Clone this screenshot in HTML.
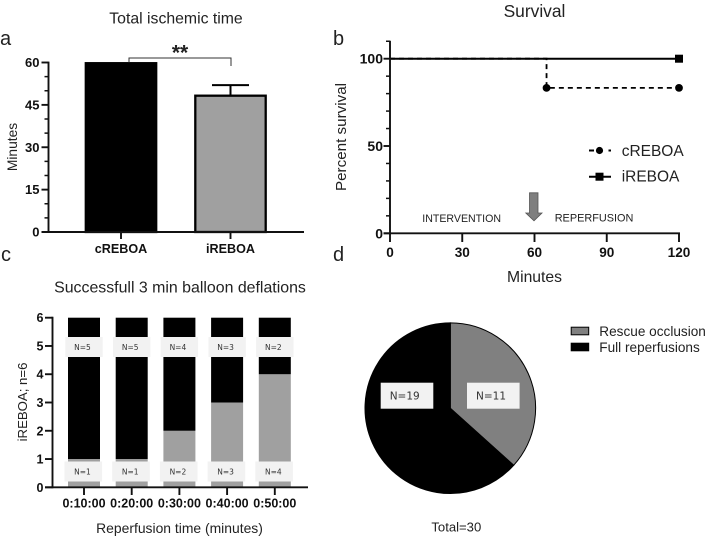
<!DOCTYPE html>
<html lang="en">
<head>
<meta charset="utf-8">
<title>REBOA outcome figure</title>
<style>
html,body{margin:0;padding:0;background:#fff;width:709px;height:539px;overflow:hidden}
svg{display:block;font-family:"Liberation Sans",sans-serif}
text{fill:#222}
.tick{font-weight:bold;fill:#111}
.small{font-family:"DejaVu Sans",sans-serif;fill:#333}
</style>
</head>
<body>
<svg id="figure" xmlns="http://www.w3.org/2000/svg" width="709" height="539" viewBox="0 0 709 539">
  <text x="0" y="45" font-size="20">a</text>
  <text x="333" y="45" font-size="20">b</text>
  <text x="1" y="261" font-size="20">c</text>
  <text x="333" y="261" font-size="20">d</text>

  <text x="176" y="23.5" font-size="15.8" text-anchor="middle">Total ischemic time</text>
  <text transform="translate(17,147) rotate(-90)" font-size="13.8" text-anchor="middle">Minutes</text>
  <g id="panel-a"></g>
  <g>
    <path d="M129 62.5V58H231V66" fill="none" stroke="#333" stroke-width="1"/>
    <text x="180" y="59.5" font-size="21" font-weight="bold" text-anchor="middle">**</text>
  </g>

  <text x="534.5" y="17" font-size="17.4" text-anchor="middle">Survival</text>
  <text transform="translate(346,137) rotate(-90)" font-size="15.2" text-anchor="middle">Percent survival</text>
  <text x="534.5" y="282" font-size="15.7" text-anchor="middle">Minutes</text>
  <g id="panel-b"></g>
  <text x="422.3" y="222" font-size="10.6" fill="#333">INTERVENTION</text>
  <text x="554.7" y="221.7" font-size="10.9" fill="#333">REPERFUSION</text>
  <path d="M529.5 192.8H538V213H542L534 220.8L525.8 213H529.5Z" fill="#7f7f7f" stroke="#555" stroke-width="0.8"/>
  <g>
    <path d="M589 150.5H594M608.5 150.5H611" stroke="#000" stroke-width="2"/>
    <circle cx="599.5" cy="150.5" r="3.6" fill="#000"/>
    <text x="621.7" y="156" font-size="15.5">cREBOA</text>
    <path d="M589 176.7H611" stroke="#000" stroke-width="2"/>
    <rect x="595.5" y="172.7" width="8" height="8" fill="#000"/>
    <text x="621.7" y="181.7" font-size="15.5">iREBOA</text>
  </g>

  <text x="180" y="292.7" font-size="15.9" text-anchor="middle">Successfull 3 min balloon deflations</text>
  <text transform="translate(27,402) rotate(-90)" font-size="13.2" text-anchor="middle">iREBOA; n=6</text>
  <text x="179.5" y="533" font-size="13.9" text-anchor="middle">Reperfusion time (minutes)</text>
  <g id="panel-c"></g>

  <g id="panel-d"></g>
  <g>
    <rect x="571.2" y="327.2" width="17.5" height="7.6" fill="#808080" stroke="#000" stroke-width="1"/>
    <text x="599.3" y="336" font-size="13.6">Rescue occlusion</text>
    <rect x="571.2" y="343.2" width="17.5" height="7.6" fill="#000" stroke="#000" stroke-width="1"/>
    <text x="599.3" y="352" font-size="13.6">Full reperfusions</text>
  </g>
  <text x="456.3" y="531.7" font-size="13.1" text-anchor="middle">Total=30</text>
</svg>

<script>
// Panel a data
const ischemicCategories = ['cREBOA', 'iREBOA'];
const ischemicMeans = [60, 48.5];
const ischemicErrors = [0, 3.5];
const ischemicTicks = [0, 15, 30, 45, 60];
const ischemicMinorTicks = [5, 10, 20, 25, 35, 40, 50, 55];

// Panel b data
const survivalTimesCreboa = [0, 65, 120];
const survivalValuesCreboa = [100, 83.3, 83.3];
const survivalTimesIreboa = [0, 120];
const survivalValuesIreboa = [100, 100];
const survivalXTicks = [0, 30, 60, 90, 120];
const survivalYTicks = [0, 50, 100];
const survivalYMinorTicks = [10, 20, 30, 40, 60, 70, 80, 90, 110];

// Panel c data
const deflationCategories = ['0:10:00', '0:20:00', '0:30:00', '0:40:00', '0:50:00'];
const rescueCounts = [1, 1, 2, 3, 4];
const fullCounts = [5, 5, 4, 3, 2];
const deflationYTicks = [0, 1, 2, 3, 4, 5, 6];

// Panel d data
const pieLabels = ['Rescue occlusion', 'Full reperfusions'];
const pieValues = [11, 19];

const NS = 'http://www.w3.org/2000/svg';
function mk(parent, tag, attrs, txt) {
  const el = document.createElementNS(NS, tag);
  for (const k in attrs) el.setAttribute(k, attrs[k]);
  if (txt !== undefined) el.textContent = txt;
  parent.appendChild(el);
  return el;
}

/* ---------- Panel a ---------- */
(function () {
  const g = document.getElementById('panel-a');
  const y = v => 232 - v * (169.5 / 60);
  const cx = i => 121 + i * 109.5;
  const fills = ['#000', '#a0a0a0'];
  ischemicCategories.forEach((c, i) => {
    const bar = mk(g, 'rect', { x: cx(i) - 35.2, y: y(ischemicMeans[i]) + 0.7, width: 70.4, height: 232 - y(ischemicMeans[i]) - 0.7, fill: fills[i], stroke: '#000', 'stroke-width': 2.3 });
    
    
    if (ischemicErrors[i] > 0) {
      const top = y(ischemicMeans[i] + ischemicErrors[i]);
      const err = mk(g, 'path', { d: 'M' + (cx(i) - 18.5) + ' ' + top + 'H' + (cx(i) + 18.5) + 'M' + cx(i) + ' ' + top + 'V' + y(ischemicMeans[i]), stroke: '#000', 'stroke-width': 2, fill: 'none' });
      
      
    }
    const tick = mk(g, 'line', { x1: cx(i), x2: cx(i), y1: 232, y2: 239, stroke: '#111', 'stroke-width': 1.9 });
    
    
    const lab = mk(g, 'text', { x: cx(i), y: 253, 'font-size': 12.6, 'text-anchor': 'middle', class: 'tick' }, c);
    
    
  });
  ischemicMinorTicks.forEach(v => {
    const t = mk(g, 'line', { x1: 44.5, x2: 48.5, y1: y(v), y2: y(v), stroke: '#111', 'stroke-width': 1.5 });
    
    
  });
  ischemicTicks.forEach(v => {
    const t = mk(g, 'line', { x1: 41.5, x2: 48.5, y1: y(v), y2: y(v), stroke: '#111', 'stroke-width': 1.9 });
    
    
    const l = mk(g, 'text', { x: 39.5, y: y(v) + 4.6, 'font-size': 13, 'text-anchor': 'end', class: 'tick' }, v);
    
    
  });
  const ya = mk(g, 'line', { x1: 48.5, x2: 48.5, y1: y(60) - 0.9, y2: 232.9, stroke: '#111', 'stroke-width': 1.9 });
  
  
  const xa = mk(g, 'line', { x1: 41.5, x2: 304, y1: 232, y2: 232, stroke: '#111', 'stroke-width': 1.9 });
  
  
})();

/* ---------- Panel b ---------- */
(function () {
  const g = document.getElementById('panel-b');
  const x = v => 390 + v * (289 / 120);
  const y = v => 233.3 - v * 1.746;
  function stepPath(ts, vs) {
    let d = 'M' + x(ts[0]) + ' ' + y(vs[0]);
    for (let i = 1; i < ts.length; i++) d += 'H' + x(ts[i]) + 'V' + y(vs[i]);
    return d;
  }
  const lineC = mk(g, 'path', { d: stepPath(survivalTimesCreboa, survivalValuesCreboa), fill: 'none', stroke: '#000', 'stroke-width': 1.8, 'stroke-dasharray': '5 4' });
  
  
  const lineI = mk(g, 'path', { d: stepPath(survivalTimesIreboa, survivalValuesIreboa), fill: 'none', stroke: '#000', 'stroke-width': 2 });
  
  
  survivalTimesCreboa.forEach((t, i) => {
    if (i === 0) return;
    const p = mk(g, 'circle', { cx: x(t), cy: y(survivalValuesCreboa[i]), r: 3.9, fill: '#000' });
    
    
  });
  survivalTimesIreboa.forEach((t, i) => {
    if (i === 0) return;
    const p = mk(g, 'rect', { x: x(t) - 4, y: y(survivalValuesIreboa[i]) - 4, width: 8, height: 8, fill: '#000' });
    
    
  });
  survivalYMinorTicks.forEach(v => {
    const t = mk(g, 'line', { x1: 386, x2: 390, y1: y(v), y2: y(v), stroke: '#111', 'stroke-width': 1.5 });
    
    
  });
  survivalYTicks.forEach(v => {
    const t = mk(g, 'line', { x1: 383.5, x2: 390, y1: y(v), y2: y(v), stroke: '#111', 'stroke-width': 1.9 });
    
    
    const l = mk(g, 'text', { x: 383, y: y(v) + 5, 'font-size': 14, 'text-anchor': 'end', class: 'tick' }, v);
    
    
  });
  survivalXTicks.forEach(v => {
    const t = mk(g, 'line', { x1: x(v), x2: x(v), y1: 233.3, y2: 242, stroke: '#111', 'stroke-width': 1.9 });
    
    
    const l = mk(g, 'text', { x: x(v), y: 257, 'font-size': 13.6, 'text-anchor': 'middle', class: 'tick' }, v);
    
    
  });
  const ya = mk(g, 'line', { x1: 390, x2: 390, y1: 40.7, y2: 234.2, stroke: '#111', 'stroke-width': 1.9 });
  
  
  const xa = mk(g, 'line', { x1: 383.5, x2: 680, y1: 233.3, y2: 233.3, stroke: '#111', 'stroke-width': 1.9 });
  
  
})();

/* ---------- Panel c ---------- */
(function () {
  const g = document.getElementById('panel-c');
  const y = v => 487.3 - v * (169.6 / 6);
  const cx = i => 84 + i * 47.7;
  deflationCategories.forEach((c, i) => {
    const r = mk(g, 'rect', { x: cx(i) - 16, y: y(rescueCounts[i]), width: 32, height: y(0) - y(rescueCounts[i]), fill: '#a0a0a0' });
    
    
    const f = mk(g, 'rect', { x: cx(i) - 16, y: y(rescueCounts[i] + fullCounts[i]), width: 32, height: y(rescueCounts[i]) - y(rescueCounts[i] + fullCounts[i]), fill: '#000' });
    
    
  });
  deflationCategories.forEach((c, i) => {
    const bt = mk(g, 'rect', { x: cx(i) - 18.7, y: 337, width: 37.4, height: 20, fill: '#f2f2f2' });
    
    
    const tt = mk(g, 'text', { x: cx(i) - 1.5, y: 350, 'font-size': 7.5, 'text-anchor': 'middle', class: 'small' }, 'N=' + fullCounts[i]);
    
    
    const bb = mk(g, 'rect', { x: cx(i) - 19.5, y: 461.5, width: 37.6, height: 20, fill: '#f2f2f2' });
    
    
    const tb = mk(g, 'text', { x: cx(i) - 1.5, y: 474.5, 'font-size': 7.5, 'text-anchor': 'middle', class: 'small' }, 'N=' + rescueCounts[i]);
    
    
    const t = mk(g, 'line', { x1: cx(i), x2: cx(i), y1: 487.3, y2: 495, stroke: '#111', 'stroke-width': 1.9 });
    
    
    const l = mk(g, 'text', { x: cx(i), y: 507.5, 'font-size': 12.5, 'text-anchor': 'middle', class: 'tick' }, c);
    
    
  });
  deflationYTicks.forEach(v => {
    const t = mk(g, 'line', { x1: 45, x2: 52.5, y1: y(v), y2: y(v), stroke: '#111', 'stroke-width': 1.9 });
    
    
    const l = mk(g, 'text', { x: 43.5, y: y(v) + 4.5, 'font-size': 12.5, 'text-anchor': 'end', class: 'tick' }, v);
    
    
  });
  const ya = mk(g, 'line', { x1: 52.5, x2: 52.5, y1: y(6) - 0.9, y2: 488.2, stroke: '#111', 'stroke-width': 1.9 });
  
  
  const xa = mk(g, 'line', { x1: 45, x2: 308, y1: 487.3, y2: 487.3, stroke: '#111', 'stroke-width': 1.9 });
  
  
})();

/* ---------- Panel d ---------- */
(function () {
  const g = document.getElementById('panel-d');
  const cx = 450.3, cy = 408.2, r = 85.3;
  const total = pieValues.reduce((a, b) => a + b, 0);
  const fills = ['#808080', '#000'];
  const pt = a => (cx + r * Math.sin(a)) + ' ' + (cy - r * Math.cos(a));
  let start = 0;
  pieValues.forEach((v, i) => {
    const sweep = v / total * Math.PI * 2;
    const end = start + sweep;
    const s = mk(g, 'path', { d: 'M' + cx + ' ' + cy + 'L' + pt(start) + 'A' + r + ' ' + r + ' 0 ' + (sweep > Math.PI ? 1 : 0) + ' 1 ' + pt(end) + 'Z', fill: fills[i], stroke: '#000', 'stroke-width': 1 });
    
    
    start = end;
  });
  const boxOffsets = { rescue: 16.7, full: -69.6 };
  const b1 = mk(g, 'rect', { x: cx + boxOffsets.rescue, y: cy - 25.5, width: 52.6, height: 26, fill: '#f2f2f2' });
  
  
  const t1 = mk(g, 'text', { x: cx + boxOffsets.rescue + 24, y: cy - 8.5, 'font-size': 10.5, 'text-anchor': 'middle', class: 'small' }, 'N=' + pieValues[0]);
  
  
  const b2 = mk(g, 'rect', { x: cx + boxOffsets.full, y: cy - 25.5, width: 52.6, height: 26, fill: '#f2f2f2' });
  
  
  const t2 = mk(g, 'text', { x: cx + boxOffsets.full + 24, y: cy - 8.5, 'font-size': 10.5, 'text-anchor': 'middle', class: 'small' }, 'N=' + pieValues[1]);
  
  
})();
</script>
</body>
</html>
